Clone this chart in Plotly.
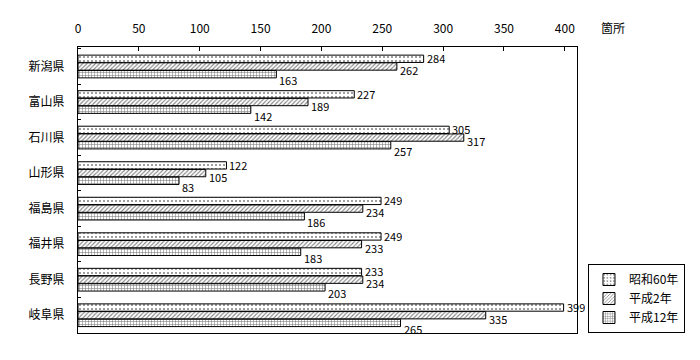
import plotly.graph_objects as go

prefectures = ["新潟県", "富山県", "石川県", "山形県", "福島県", "福井県", "長野県", "岐阜県"]
series_names = ["昭和60年", "平成2年", "平成12年"]
s60 = [284, 227, 305, 122, 249, 249, 233, 399]
h2 = [262, 189, 317, 105, 234, 233, 234, 335]
h12 = [163, 142, 257, 83, 186, 183, 203, 265]
x_ticks = [0, 50, 100, 150, 200, 250, 300, 350, 400]

FONT = "Noto Sans CJK JP"
patterns = [dict(shape=".", size=4, solidity=0.2),
            dict(shape="/", size=3, solidity=0.35),
            dict(shape="+", size=3, solidity=0.35)]
label_yshift = [9, -3, -13]

fig = go.Figure()
annotations = []
for name, vals, pat, ys in zip(series_names, [s60, h2, h12], patterns, label_yshift):
    fig.add_trace(go.Bar(
        name=name, y=prefectures, x=vals, orientation="h",
        marker=dict(color="white", line=dict(color="black", width=1),
                    pattern=dict(fgcolor="black", bgcolor="white", fillmode="overlay", **pat)),
    ))
    for p, v in zip(prefectures, vals):
        annotations.append(dict(text=str(v), x=v, y=p, xref="x", yref="y",
                                xanchor="left", yanchor="middle", xshift=2, yshift=ys,
                                height=11, borderpad=0,
                                showarrow=False, font=dict(family=FONT, size=11, color="black")))

annotations.append(dict(text="箇所", xref="paper", yref="paper", x=1.045, y=1.0,
                        xanchor="left", yanchor="bottom", yshift=9, showarrow=False,
                        font=dict(family=FONT, size=12)))

fig.update_layout(
    width=700, height=360,
    margin=dict(l=78, r=123, t=47, b=27),
    paper_bgcolor="white", plot_bgcolor="white",
    barmode="group", bargap=0.35, bargroupgap=0.05,
    font=dict(family=FONT, size=12, color="black"),
    showlegend=True,
    legend=dict(x=1.022, y=0, xanchor="left", yanchor="bottom",
                bordercolor="black", borderwidth=1, bgcolor="white",
                font=dict(family=FONT, size=12), traceorder="normal", tracegroupgap=4),
    xaxis=dict(side="top", range=[0, 410], tickvals=x_ticks, ticks="inside", ticklen=4,
               tickcolor="black", showgrid=False, zeroline=False, showline=True,
               linecolor="black", linewidth=1, mirror=True, tickfont=dict(size=12),
               ticklabelstandoff=8),
    yaxis=dict(autorange="reversed", ticks="inside", tickson="boundaries", ticklen=3,
               tickcolor="black", showgrid=False, showline=True, linecolor="black",
               linewidth=1, mirror=True, tickfont=dict(size=12), ticklabelstandoff=10),
    annotations=annotations,
)

fig.write_html("out.html")
